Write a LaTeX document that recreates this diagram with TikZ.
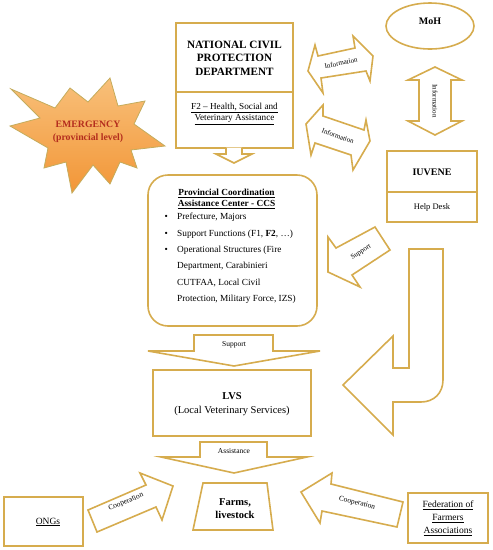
\documentclass[tikz,border=0pt]{standalone}
\usepackage{fontspec}
\setmainfont{Liberation Serif}
\usetikzlibrary{shapes.geometric}
\definecolor{gold}{RGB}{214,172,78}
\definecolor{burstline}{RGB}{196,172,92}
\definecolor{emred}{RGB}{180,45,30}
\definecolor{orangetop}{RGB}{248,192,122}
\definecolor{orangebot}{RGB}{242,150,55}
\begin{document}
\begin{tikzpicture}[x=1pt,y=-1pt,
  box/.style={draw=gold,line width=1.6pt,fill=white,inner sep=0pt},
  blk/.style={draw=gold,line width=1.6pt,fill=white,line join=miter},
  lbl/.style={inner sep=0pt,font=\fontsize{7}{8}\selectfont},
  txt/.style={inner sep=0pt,align=center}]
\useasboundingbox (0,0) rectangle (493,550);

% ---------- EMERGENCY starburst
\path[draw=burstline,line width=0.8pt,top color=orangetop,bottom color=orangebot]
  (11,89) -- (55,108) -- (70,88) -- (88,102) -- (110,78) -- (118,106) -- (145,101)
  -- (134,124) -- (165,146) -- (131,150) -- (137,168) -- (120,162) -- (110,184)
  -- (93,165) -- (72,193) -- (66,162) -- (44,168) -- (48,148) -- (10,126)
  -- (40,118) -- cycle;
\node[txt,text=emred,font=\bfseries\fontsize{9.8}{12.5}\selectfont] (emer) at (88,132)
  {EMERGENCY\\(provincial level)};

% ---------- National Civil Protection Department
\node[box,minimum width=117pt,minimum height=125pt] (ncpd) at (234.5,85.5) {};
\draw[gold,line width=1.6pt] (ncpd.west |- 0,92) -- (ncpd.east |- 0,92);
\node[txt,font=\bfseries\fontsize{11.2}{13.5}\selectfont] (ncpdt) at (234.5,58)
  {NATIONAL CIVIL\\PROTECTION\\DEPARTMENT};
\node[txt,font=\fontsize{9.2}{11.5}\selectfont] (ncpdf) at (234.5,114)
  {\underline{F2 -- Health, Social and}\\\underline{Veterinary Assistance}};

% small down arrow
\path[blk] (226,147.5) -- (226,154) -- (216,154) -- (234,163) -- (252,154) -- (242,154) -- (242,147.5);

% ---------- MoH
\node[box,ellipse,minimum width=88pt,minimum height=46pt] (moh) at (430,26) {};
\node[txt,font=\bfseries\fontsize{10}{12}\selectfont] (moht) at (430,21) {MoH};

% information arrows
\path[blk] (308,71) -- (315,45) -- (318,56) -- (355,48) -- (353,36) -- (373,56)
  -- (370,81) -- (366,71) -- (321,78) -- (323,93) -- cycle;
\node[lbl,rotate=11] (inf1) at (341,63) {Information};

\path[blk] (323,105) -- (306,124) -- (311,155) -- (315,143) -- (351,155) -- (353,170)
  -- (370,141) -- (366,120) -- (364,130) -- (323,116) -- cycle;
\node[lbl,rotate=-20] (inf2) at (338,136) {Information};

\path[blk] (435,67) -- (462,80) -- (451,80) -- (451,121) -- (462,121) -- (435,135)
  -- (408,121) -- (419,121) -- (419,80) -- (408,80) -- cycle;
\node[lbl,rotate=-90] (inf3) at (435,101) {Information};

% ---------- IUVENE
\node[box,minimum width=90pt,minimum height=71pt] (iuv) at (432,186.5) {};
\draw[gold,line width=1.6pt] (iuv.west |- 0,192) -- (iuv.east |- 0,192);
\node[txt,font=\bfseries\fontsize{10}{12}\selectfont] (iuvt) at (432,172) {IUVENE};
\node[txt,font=\fontsize{8.5}{10}\selectfont] (iuvh) at (432,207) {Help Desk};

% support arrow IUVENE -> CCS
\path[blk] (375,227) -- (390,250) -- (352,275) -- (360,287) -- (328,272) -- (328,237)
  -- (336,248) -- cycle;
\node[lbl,rotate=31] (sup1) at (361,252) {Support};

% ---------- CCS
\node[box,rounded corners=20pt,minimum width=169pt,minimum height=151pt] (ccs) at (232.5,250.5) {};
\node[txt,font=\bfseries\fontsize{9.3}{11}\selectfont] (ccst) at (226.5,199)
  {\underline{Provincial Coordination}\\\underline{Assistance Center - CCS}};
\node[inner sep=0pt,anchor=north west,align=left,font=\fontsize{9.3}{16.4}\selectfont] (ccsl) at (164.5,213)
  {\makebox[12.5pt][l]{•}Prefecture, Majors\\
   \makebox[12.5pt][l]{•}Support Functions (F1, \textbf{F2}, …)\\
   \makebox[12.5pt][l]{•}Operational Structures (Fire\\
   \hspace*{12.5pt}Department, Carabinieri\\
   \hspace*{12.5pt}CUTFAA, Local Civil\\
   \hspace*{12.5pt}Protection, Military Force, IZS)};

% big L arrow
\path[blk] (409,249) -- (443,249) -- (443,380) .. controls (443,393) and (434,402) .. (421,402)
  -- (393,402) -- (393,435) -- (343,385) -- (393,336) -- (393,368) -- (409,368) -- cycle;

% support arrow CCS -> LVS
\path[blk] (194,335) -- (273,335) -- (273,351) -- (320,351) -- (234,366) -- (148,351) -- (194,351) -- cycle;
\node[lbl,font=\fontsize{7.5}{9}\selectfont] (sup2) at (234,345) {Support};

% ---------- LVS
\node[box,minimum width=158pt,minimum height=66pt] (lvs) at (232,403) {};
\node[txt,font=\fontsize{10.5}{14}\selectfont] (lvst) at (232,404)
  {\textbf{LVS}\\(Local Veterinary Services)};

% assistance arrow
\path[blk] (200,442) -- (267,442) -- (267,457) -- (307,457) -- (234,473) -- (161,457) -- (200,457) -- cycle;
\node[lbl,font=\fontsize{7.5}{9}\selectfont] (asst) at (234,451) {Assistance};

% ---------- Farms
\path[blk] (203,483) -- (267,483) -- (273,530) -- (193,530) -- cycle;
\coordinate (farms) at (235,506.5);
\node[txt,font=\bfseries\fontsize{10.5}{13}\selectfont] (farmst) at (235,509) {Farms,\\livestock};

% ---------- ONGs
\node[box,minimum width=79pt,minimum height=49pt] (ongs) at (43.5,521.5) {};
\node[txt,font=\fontsize{9.5}{11}\selectfont] (ongst) at (48,522) {\underline{ONGs}};

\path[blk] (88,510) -- (146,485) -- (140,473) -- (173,486) -- (162,520) -- (156,507) -- (97,532) -- cycle;
\node[lbl,font=\fontsize{7.5}{9}\selectfont,rotate=23] (coop1) at (126,502) {Cooperation};

% ---------- Federation
\node[box,minimum width=80pt,minimum height=50pt] (fed) at (448,518) {};
\node[txt,font=\fontsize{9.5}{13}\selectfont] (fedt) at (448,518)
  {\underline{Federation of}\\\underline{Farmers}\\\underline{Associations}};

\path[blk] (403,502) -- (397,527) -- (322,511) -- (320,523) -- (301,492) -- (332,473) -- (331,484) -- cycle;
\node[lbl,font=\fontsize{7.5}{9}\selectfont,rotate=-14] (coop2) at (357,503) {Cooperation};
\end{tikzpicture}
\end{document}
